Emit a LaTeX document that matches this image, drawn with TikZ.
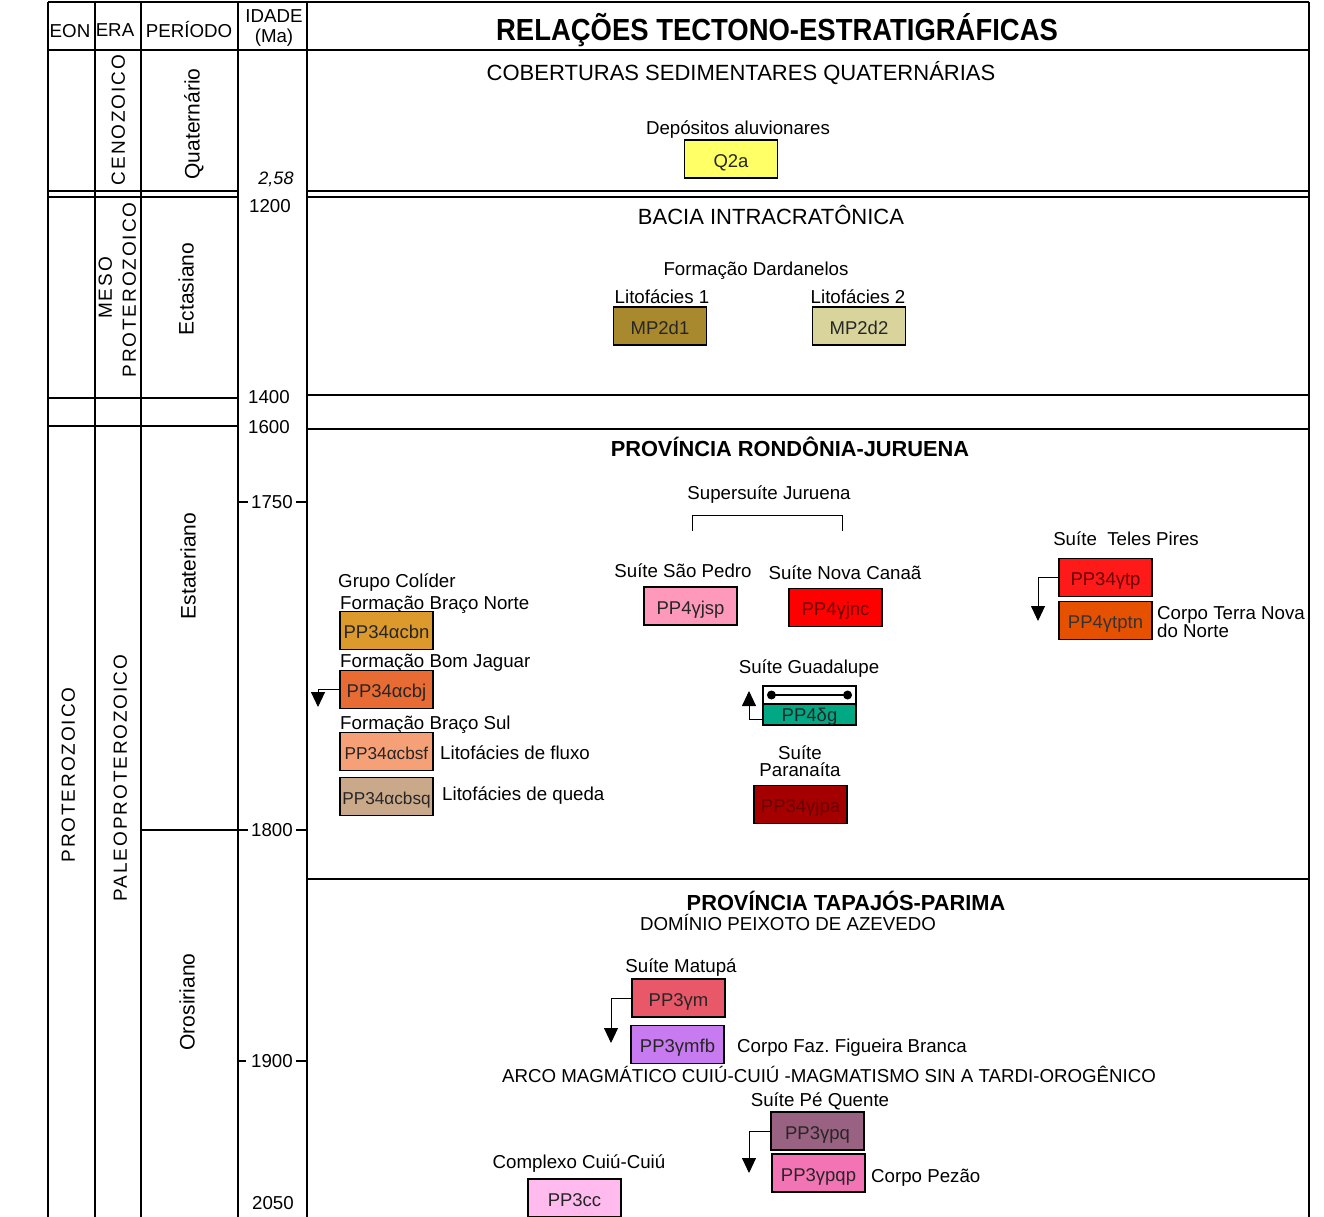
\documentclass[tikz,border=0pt]{standalone}
\usepackage{fontspec}
\setmainfont{Liberation Sans}
\newfontfamily\narrowfont[FakeStretch=0.9]{Liberation Sans}
\newfontfamily\spacedfont[LetterSpace=10]{Liberation Sans}
\usetikzlibrary{arrows.meta}
\definecolor{qyellow}{HTML}{FFFF66}
\definecolor{mpdark}{HTML}{A8892D}
\definecolor{mplight}{HTML}{D8D49C}
\definecolor{cbncol}{HTML}{DB9A2B}
\definecolor{cbjcol}{HTML}{E86B33}
\definecolor{cbsfcol}{HTML}{F5A077}
\definecolor{cbsqcol}{HTML}{C9A98A}
\definecolor{jspcol}{HTML}{FF99BB}
\definecolor{jnccol}{HTML}{FF0000}
\definecolor{tpcol}{HTML}{FF1A1A}
\definecolor{tptncol}{HTML}{E65100}
\definecolor{gdlcol}{HTML}{00A884}
\definecolor{jpacol}{HTML}{A50000}
\definecolor{ymcol}{HTML}{E85868}
\definecolor{mfbcol}{HTML}{C87AF0}
\definecolor{pqcol}{HTML}{9A6282}
\definecolor{pqpcol}{HTML}{F274B4}
\definecolor{cccol}{HTML}{FFBBEE}
\definecolor{darkred}{HTML}{6A0000}

\begin{document}
\begin{tikzpicture}[x=1pt,y=-1pt,
    frame/.style={line width=1.2pt},
    lbl/.style={inner sep=0pt, text height=13.3pt, text depth=0pt, font=\fontsize{18.7}{21}\selectfont},
    head/.style={inner sep=0pt, text height=15.7pt, text depth=0pt, font=\fontsize{22}{25}\selectfont},
    bighead/.style={inner sep=0pt, text height=15.6pt, text depth=0pt, font=\bfseries\fontsize{21.8}{25}\selectfont},
    unit/.style={draw, line width=1.1pt, minimum width=93pt, minimum height=38pt, inner sep=0pt, text height=16.5pt, text depth=0pt, text=black!85, font=\fontsize{18.5}{21}\selectfont},
    era/.style={rotate=90, inner sep=0pt, text height=13.6pt, text depth=0pt, font=\spacedfont\fontsize{19}{21}\selectfont},
    period/.style={rotate=90, inner sep=0pt, text height=15pt, text depth=0pt, font=\fontsize{21}{24}\selectfont},
    flow/.style={line width=0.9pt, -{Triangle[width=14pt,length=15pt]}}]
  \useasboundingbox (0,0) rectangle (1324,1217);
  \fill[white] (0,0) rectangle (1324,1217);
  \draw[frame] (48,2) -- (1309,2) (48,50) -- (1309,50);
  \foreach \xc in {48,95,141,238,307,1309}
    \draw[frame] (\xc,2) -- (\xc,1217);
  \foreach \yc in {191,197,398,426}
    \draw[frame] (48,\yc) -- (238,\yc);
  \foreach \yc in {191,197,395,429,879}
    \draw[frame] (307,\yc) -- (1309,\yc);
  \draw[frame] (141,830) -- (248,830) (296,830) -- (307,830);
  \draw[frame] (238,502) -- (248,502) (296,502) -- (307,502);
  \draw[frame] (238,1061) -- (246,1061) (296,1061) -- (307,1061);

  \node[lbl] (eonH) at (70,31) {EON};
  \node[lbl] (eraH) at (115,30) {ERA};
  \node[lbl] (perH) at (189,31) {PERÍODO};
  \node[lbl] (idadeH) at (274,16) {IDADE};
  \node[lbl] (maH) at (274,36) {(Ma)};
  \node[inner sep=0pt, font=\narrowfont\bfseries\fontsize{30.5}{34}\selectfont] (title) at (777,30) {RELAÇÕES TECTONO-ESTRATIGRÁFICAS};

  \node[era] (ceno) at (118,120) {CENOZOICO};
  \node[period] (quat) at (192,124) {Quaternário};
  \node[era] (meso) at (105,288) {MESO};
  \node[era] (mesoprot) at (129,290) {PROTEROZOICO};
  \node[period] (ectas) at (186,289) {Ectasiano};
  \node[era] (prot) at (68,775) {PROTEROZOICO};
  \node[era] (paleo) at (120,778) {PALEOPROTEROZOICO};
  \node[period] (estat) at (188,566) {Estateriano};
  \node[period] (oros) at (187,1002) {Orosiriano};

  \node[lbl, font=\itshape\fontsize{18}{20}\selectfont] (a258) at (276,178) {2,58};
  \node[lbl] (a1200) at (270,206) {1200};
  \node[lbl] (a1400) at (269,397) {1400};
  \node[lbl] (a1600) at (269,427) {1600};
  \node[lbl] (a1750) at (272,502) {1750};
  \node[lbl] (a1800) at (272,830) {1800};
  \node[lbl] (a1900) at (272,1061) {1900};
  \node[lbl] (a2050) at (273,1203) {2050};

  \node[head] (cobert) at (741,73) {COBERTURAS SEDIMENTARES QUATERNÁRIAS};
  \node[lbl] (depos) at (738,128) {Depósitos aluvionares};
  \node[unit, fill=qyellow] (q2a) at (731,159) {Q2a};

  \node[head] (bacia) at (771,217) {BACIA INTRACRATÔNICA};
  \node[lbl] (dardan) at (756,269) {Formação Dardanelos};
  \node[lbl] (lito1) at (662,297) {Litofácies 1};
  \node[lbl] (lito2) at (858,297) {Litofácies 2};
  \node[unit, fill=mpdark] (mp2d1) at (660,326) {MP2d1};
  \node[unit, fill=mplight] (mp2d2) at (859,326) {MP2d2};

  \node[bighead] (rondonia) at (790,449) {PROVÍNCIA RONDÔNIA-JURUENA};
  \node[lbl] (colider) at (338,581) [anchor=west] {Grupo Colíder};
  \node[lbl] (bnorte) at (340,603) [anchor=west] {Formação Braço Norte};
  \node[unit, fill=cbncol] (cbn) at (386.5,630.5) {PP34αcbn};
  \node[lbl] (bjaguar) at (340,661) [anchor=west] {Formação Bom Jaguar};
  \node[unit, fill=cbjcol] (cbj) at (386.5,689.5) {PP34αcbj};
  \node[lbl] (bsul) at (340,723) [anchor=west] {Formação Braço Sul};
  \node[unit, fill=cbsfcol, font=\fontsize{17.2}{19}\selectfont] (cbsf) at (386.5,751.5) {PP34αcbsf};
  \node[unit, fill=cbsqcol, font=\fontsize{17.2}{19}\selectfont] (cbsq) at (386.5,796.5) {PP34αcbsq};
  \node[lbl] (fluxo) at (440,753) [anchor=west] {Litofácies de fluxo};
  \node[lbl] (queda) at (442,794) [anchor=west] {Litofácies de queda};
  \coordinate (cbjEnd) at (318,707);
  \draw[flow] (cbj.west) -| (cbjEnd);

  \node[lbl] (juruena) at (769,493) {Supersuíte Juruena};
  \coordinate (jrL) at (692,531);
  \coordinate (jrR) at (842,531);
  \draw[line width=0.9pt] (jrL) -- ++(0,-16) -| (jrR);
  \node[lbl] (spedro) at (683,571) {Suíte São Pedro};
  \node[lbl] (ncanaa) at (845,573) {Suíte Nova Canaã};
  \node[unit, fill=jspcol] (jsp) at (690.5,606) {PP4γjsp};
  \node[unit, fill=jnccol, text=darkred] (jnc) at (835.5,607.5) {PP4γjnc};

  \node[lbl] (tpires) at (1126,539) {Suíte\ \ Teles Pires};
  \node[unit, fill=tpcol, text=darkred] (tp) at (1105.5,577.5) {PP34γtp};
  \node[unit, fill=tptncol, text=black!80] (tptn) at (1105.5,620.5) {PP4γtptn};
  \node[lbl] (tnova) at (1157,613) [anchor=west] {Corpo Terra Nova};
  \node[lbl] (tnorte) at (1157,631) [anchor=west] {do Norte};
  \coordinate (tpEnd) at (1038,621);
  \draw[flow] (tp.west) -| (tpEnd);

  \node[lbl] (guadal) at (809,667) {Suíte Guadalupe};
  \node[unit, fill=white, minimum height=18pt, text height=0pt] (gtop) at (809.5,695) {};
  \node[unit, fill=gdlcol, minimum height=21pt, text height=13pt] (gdl) at (809.5,714.5) {PP4δg};
  \draw[line width=1.6pt] ([xshift=9pt]gtop.west) -- ([xshift=-9pt]gtop.east);
  \fill ([xshift=9pt]gtop.west) circle (4.5pt) ([xshift=-9pt]gtop.east) circle (4.5pt);
  \coordinate (gdlEnd) at (749,691);
  \draw[flow] ([yshift=-5pt]gdl.west) -| (gdlEnd);

  \node[lbl] (suite) at (800,753) {Suíte};
  \node[lbl] (paranaita) at (800,770) {Paranaíta};
  \node[unit, fill=jpacol, text=darkred] (jpa) at (800.5,804.5) {PP34γjpa};

  \node[bighead] (tapajos) at (846,903) {PROVÍNCIA TAPAJÓS-PARIMA};
  \node[lbl] (peixoto) at (788,924) {DOMÍNIO PEIXOTO DE AZEVEDO};
  \node[lbl] (matupa) at (681,966) {Suíte Matupá};
  \node[unit, fill=ymcol] (ym) at (678.5,998) {PP3γm};
  \node[unit, fill=mfbcol] (mfb) at (677.5,1044.5) {PP3γmfb};
  \node[lbl] (figueira) at (737,1046) [anchor=west] {Corpo Faz.\ Figueira Branca};
  \coordinate (ymEnd) at (611,1043);
  \draw[flow] (ym.west) -| (ymEnd);

  \node[lbl] (arco) at (829,1076) {ARCO MAGMÁTICO CUIÚ-CUIÚ -MAGMATISMO SIN A TARDI-OROGÊNICO};
  \node[lbl] (pquente) at (820,1100) {Suíte Pé Quente};
  \node[unit, fill=pqcol] (pq) at (817.5,1131) {PP3γpq};
  \node[unit, fill=pqpcol] (pqp) at (818.5,1173) {PP3γpqp};
  \node[lbl] (pezao) at (871,1176) [anchor=west] {Corpo Pezão};
  \coordinate (pqEnd) at (749,1173);
  \draw[flow] (pq.west) -| (pqEnd);

  \node[lbl] (cuiu) at (579,1162) {Complexo Cuiú-Cuiú};
  \node[unit, fill=cccol] (cc) at (574.5,1198) {PP3cc};
\end{tikzpicture}
\end{document}
